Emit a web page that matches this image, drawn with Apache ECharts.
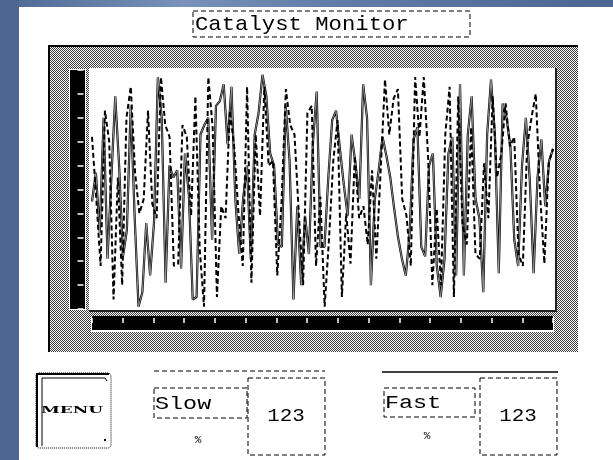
<!DOCTYPE html>
<html>
<head>
<meta charset="utf-8">
<script src="https://cdn.jsdelivr.net/npm/echarts@6/dist/echarts.min.js"></script>
<style>
html,body{margin:0;padding:0;background:#fff;}
#chart{width:613px;height:460px;}
</style>
</head>
<body>
<div id="chart"></div>
<script>
// ---- data (percent of the y range) ----
const solidValues = [45,57,32,80,21,55,89,60,22,33,85,39,1,7,36,14,36,97,80,11,
  60,55,58,17,65,48,4,5,73,77,80,29,85,87,94,69,
  93,46,23,46,60,21,73,82,98,89,65,60,27,26,85,62,4,43,10,39,23,69,91,26,26,55,79,83,67,52,
  39,73,61,46,94,80,10,46,58,72,64,55,42,
  30,21,14,32,71,76,26,22,60,65,18,5,21,65,72,14,94,14,73,89,46,38,7,73,96,73,15,86,80,68,
  29,18,60,80,54,15,55,71,43,62,67];
const dashedValues = [72,46,18,83,70,4,55,10,80,93,57,40,46,83,44,38,97,77,72,18,19,77,72,39,89,25,1,97,76,5,43,38,83,68,40,18,93,
  11,73,39,93,60,62,14,45,92,77,73,40,10,82,85,18,47,1,29,62,79,5,40,19,64,38,43,27,58,21,58,96,73,
  88,92,46,39,18,97,72,97,64,10,42,10,73,93,5,89,35,27,76,23,21,61,38,89,55,65,86,68,72,23,18,68,80,90,48,19,61,67];
const solidCategories = solidValues.map((v, i) => String(i));
const dashedCategories = dashedValues.map((v, i) => String(i));
const yRange = [0, 100];      // y axis bar: 10 divisions
const yStep = 10;
const xBarRange = [0, 15];    // x axis bar: 15 divisions
const xBarStep = 1;
const titleText = 'Catalyst Monitor';
const slowLabel = 'Slow', fastLabel = 'Fast';
const slowValue = '123', fastValue = '123';
const unitText = '%';
const menuText = 'MENU';

// dither pattern for the grey frame
const pc = document.createElement('canvas');
pc.width = 2; pc.height = 2;
const pctx = pc.getContext('2d');
pctx.fillStyle = '#ffffff'; pctx.fillRect(0,0,2,2);
pctx.fillStyle = '#3a3a3a'; pctx.fillRect(0,0,1,1); pctx.fillRect(1,1,1,1);
const dither = {image: pc, repeat: 'repeat'};

const chart = echarts.init(document.getElementById('chart'), null, {renderer:'canvas'});
const BG = -20;
const dash = [5,3];
function txt(x, y, text, font, opts) {
  opts = opts || {};
  return {type:'text', x:x, y:y, z: 20, scaleX: opts.scaleX || 1,
    style:{text:text, x:0, y:0, font:font, fill:'#000',
      textAlign: opts.align || 'left', textVerticalAlign:'middle', verticalAlign:'middle'}};
}
function drect(x,y,w,h){ return {type:'rect', z:20, shape:{x:x,y:y,width:w,height:h}, style:{fill:null, stroke:'#000', lineWidth:1, lineDash:dash}}; }
function line(x1,y1,x2,y2,w,d){ return {type:'line', z:20, shape:{x1:x1,y1:y1,x2:x2,y2:y2}, style:{stroke:'#000', lineWidth:w, lineDash:d||null}}; }

const option = {
  animation:false,
  backgroundColor:'#ffffff',
  grid:{left:92, right:60, top:70, bottom:151},
  xAxis:[
    {type:'category', data:solidCategories, boundaryGap:false, show:false},
    {type:'category', data:dashedCategories, boundaryGap:false, show:false},
    {type:'value', min:xBarRange[0], max:xBarRange[1], interval:xBarStep, position:'bottom', offset:14,
      axisLine:{show:true, onZero:false, lineStyle:{color:'#000', width:14, cap:'butt'}},
      axisTick:{show:true, inside:true, length:5, lineStyle:{color:'#fff', width:1.5}},
      axisLabel:{show:false}, splitLine:{show:false}}
  ],
  yAxis:[
    {type:'value', min:yRange[0], max:yRange[1], interval:yStep, position:'left', offset:14.5,
      axisLine:{show:true, onZero:false, lineStyle:{color:'#000', width:15, cap:'butt'}},
      axisTick:{show:true, inside:true, length:6, lineStyle:{color:'#fff', width:1.5}},
      axisLabel:{show:false}, splitLine:{show:false}}
  ],
  series:[
    {type:'line', xAxisIndex:0, data:solidValues, symbol:'none', z:3, lineStyle:{color:'#000', width:2.2}},
    {type:'line', xAxisIndex:0, data:solidValues, symbol:'none', z:4, lineStyle:{color:'#b0b0b0', width:0.8}},
    {type:'line', xAxisIndex:1, data:dashedValues, symbol:'none', z:5, lineStyle:{color:'#000', width:2, type:[5,3]}}
  ],
  graphic:{elements:[
    // window background
    {type:'rect', z:BG, shape:{x:0,y:0,width:613,height:7}, style:{fill:new echarts.graphic.LinearGradient(0,0,1,0,[
      {offset:0,color:'#4d6893'},{offset:0.3,color:'#7892b9'},{offset:0.55,color:'#617ca6'},{offset:1,color:'#4b6691'}])}},
    {type:'rect', z:BG, shape:{x:0,y:0,width:19,height:460}, style:{fill:'#4b6691'}},
    // frame
    {type:'rect', z:BG, shape:{x:48,y:45,width:530,height:307}, style:{fill:dither}},
    {type:'rect', z:BG+1, shape:{x:48,y:45,width:530,height:2}, style:{fill:'#000'}},
    {type:'rect', z:BG+1, shape:{x:48,y:45,width:2,height:307}, style:{fill:'#000'}},
    {type:'rect', z:BG+1, shape:{x:89,y:68,width:466,height:242}, style:{fill:'#fff'}},
    {type:'rect', z:BG+1, shape:{x:555,y:68,width:2,height:244}, style:{fill:'#222'}},
    {type:'rect', z:BG+1, shape:{x:89,y:310,width:468,height:2}, style:{fill:'#222'}},
    {type:'rect', z:BG+1, shape:{x:69,y:69,width:17,height:241}, style:{fill:'#fff'}},
    {type:'rect', z:BG+1, shape:{x:91,y:316,width:463,height:16}, style:{fill:'#fff'}},
    // title
    drect(193,11,277,26),
    txt(195,24,titleText,'21px "Liberation Mono", "DejaVu Sans Mono", monospace',{scaleX:1.06}),
    // MENU button
    {type:'rect', z:20, shape:{x:36,y:373,width:75,height:75,r:3}, style:{fill:null, stroke:'#000', lineWidth:1, lineDash:[1,1]}},
    {type:'polyline', z:20, shape:{points:[[37,447],[37,374],[109,374]]}, style:{fill:null, stroke:'#000', lineWidth:2}},
    {type:'polyline', z:20, shape:{points:[[42,446],[42,378],[105,378],[107,381]]}, style:{fill:null, stroke:'#000', lineWidth:1}},
    {type:'rect', z:20, shape:{x:104,y:439,width:2,height:2}, style:{fill:'#000'}},
    txt(72,410,menuText,'bold 10px "DejaVu Serif", serif',{scaleX:1.7, align:'center'}),
    // Slow block
    line(154,371,325,371,1,dash),
    drect(154,388,93,30),
    drect(248,378,77,77),
    txt(155,404,slowLabel,'18px "Liberation Mono", monospace',{scaleX:1.3}),
    txt(286,416,slowValue,'19px "Liberation Mono", monospace',{scaleX:1.1, align:'center'}),
    txt(198,440,unitText,'11px "Liberation Mono", monospace',{align:'center'}),
    // Fast block
    line(382,372,558,372,1.5),
    drect(384,388,91,29),
    drect(480,378,77,77),
    txt(385,403,fastLabel,'18px "Liberation Mono", monospace',{scaleX:1.3}),
    txt(518,416,fastValue,'19px "Liberation Mono", monospace',{scaleX:1.1, align:'center'}),
    txt(427,436,unitText,'11px "Liberation Mono", monospace',{align:'center'})
  ]}
};
chart.setOption(option);
</script>
</body>
</html>
